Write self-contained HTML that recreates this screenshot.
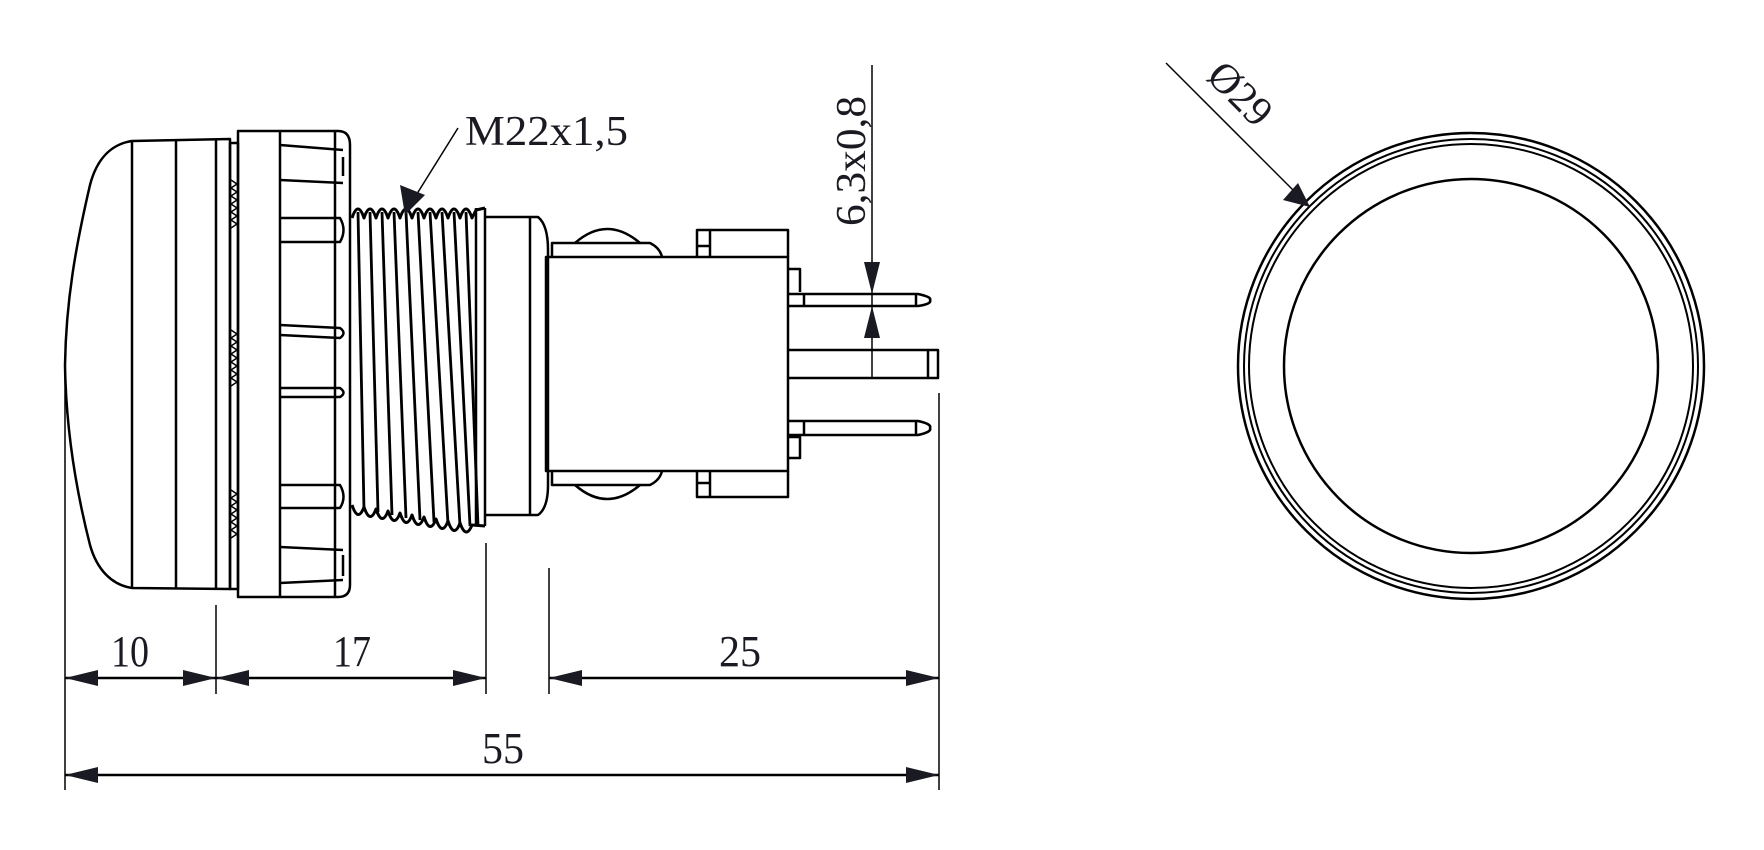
<!DOCTYPE html>
<html><head><meta charset="utf-8"><style>
html,body{margin:0;padding:0;background:#fff;}
svg{display:block;}
text{font-family:"Liberation Serif",serif;fill:#1a1a22;}
</style></head><body>
<svg width="1764" height="850" viewBox="0 0 1764 850" xmlns="http://www.w3.org/2000/svg">
<g fill="none" stroke="#000" stroke-width="2.5" stroke-linejoin="round">
<!-- lens -->
<path d="M132,141 C112,144 97,158 90,185 C76,245 66,300 65,365 C66,430 76,490 90,545 C97,570 112,585 132,588 L230,589 L230,139 Z"/>
<line x1="132" y1="142" x2="132" y2="588"/>
<line x1="176" y1="140" x2="176" y2="589"/>
<line x1="216" y1="139" x2="216" y2="589"/>
<rect x="230" y="143" width="8" height="446"/>
<path d="M231,180 l6,4 -6,4 6,4 -6,4 6,4 -6,4 6,4 -6,4 6,4 -6,4 6,4 -6,4" stroke-width="1.5"/>
<path d="M231,330 l6,4 -6,4 6,4 -6,4 6,4 -6,4 6,4 -6,4 6,4 -6,4 6,4 -6,4 6,4 -6,4" stroke-width="1.5"/>
<path d="M231,490 l6,4 -6,4 6,4 -6,4 6,4 -6,4 6,4 -6,4 6,4 -6,4 6,4 -6,4" stroke-width="1.5"/>
<!-- flange -->
<path d="M238,131 L338,131 Q350,131 350,145 L350,585 Q350,597 338,597 L238,597 Z"/>
<line x1="280" y1="131" x2="280" y2="597"/>
<line x1="335" y1="131" x2="335" y2="597"/>
<path d="M280,145 L343,150 M280,180 L343,183 M343,157 L343,176"/>
<path d="M280,218 L340,218 Q347,230 340,242 L280,242"/>
<path d="M280,325 L340,328 Q347,333 340,338 L280,335"/>
<path d="M280,388 L340,388 Q347,393 340,397 L280,397"/>
<path d="M280,485 L340,485 Q347,497 340,508 L280,508"/>
<path d="M280,547 L343,550 M280,583 L343,580 M343,555 L343,576"/>
<!-- thread -->
<path d="M352,218 q6,-18 12,0 q6,-18 12,0 q6,-18 12,0 q6,-18 12,0 q6,-18 12,0 q6,-18 12,0 q6,-18 12,0 q6,-18 12,0 q6,-18 12,0 q6,-18 12,0 L476,210 L485,208" stroke-width="3"/>
<path d="M352,505 Q358,523 364,507 Q370,525 376,509 Q382,527 388,511 Q394,529 400,513 Q406,531 412,515 Q418,533 424,517 Q430,535 436,519 Q442,537 448,521 Q454,539 460,523 Q466,540 472,525 L485,526" stroke-width="3"/>
<g stroke-width="2.8">
<line x1="358" y1="212" x2="364" y2="510"/><line x1="370" y1="212" x2="378" y2="512"/>
<line x1="382" y1="212" x2="392" y2="515"/><line x1="394" y1="212" x2="406" y2="518"/>
<line x1="406" y1="212" x2="420" y2="520"/><line x1="418" y1="212" x2="434" y2="522"/>
<line x1="430" y1="212" x2="448" y2="524"/><line x1="442" y1="212" x2="460" y2="526"/>
<line x1="454" y1="212" x2="470" y2="526"/><line x1="466" y1="212" x2="478" y2="526"/>
</g>
<line x1="476" y1="208" x2="476" y2="526"/>
<line x1="485" y1="208" x2="485" y2="526"/>
<!-- collar -->
<path d="M485,217 L538,217 Q548,225 548,250 L548,485 Q548,508 538,515 L485,515"/>
<line x1="530" y1="217" x2="530" y2="515"/>
<!-- body -->
<rect x="546" y="257" width="242" height="214"/>
<path d="M552,257 L552,243 L650,243 Q660,248 662,257"/>
<path d="M575,243 Q607,215 640,243"/>
<path d="M552,471 L552,485 L650,485 Q660,480 662,471"/>
<path d="M575,485 Q607,513 640,485"/>
<path d="M697,257 L697,230 L788,230 L788,257 M710,231 L710,257 M697,246 L710,246"/>
<path d="M697,471 L697,497 L788,497 L788,471 M710,471 L710,496 M697,483 L710,483"/>
<path d="M788,269 L800,269 L800,292 M788,437 L800,437 L800,458 L788,458"/>
<!-- pins -->
<path d="M788,294 L918,294 Q932,297 930,300 Q932,304 918,306 L788,306 M804,294 L804,306 M916,294 L916,306"/>
<path d="M788,421 L918,421 Q932,424 930,428 Q932,432 918,435 L788,435 M804,421 L804,435 M916,421 L916,435"/>
<path d="M788,350 L938,350 L938,378 L788,378 M928,350 L928,378"/>
<!-- circle view -->
<circle cx="1471" cy="366" r="233"/>
<circle cx="1471" cy="366" r="227" stroke-width="2"/>
<circle cx="1471" cy="366" r="222" stroke-width="2"/>
<circle cx="1471" cy="366" r="187"/>
</g>
<!-- dimension lines -->
<g stroke="#000" stroke-width="1.5" fill="none">
<line x1="65" y1="372" x2="65" y2="790"/>
<line x1="216" y1="605" x2="216" y2="694"/>
<line x1="486" y1="543" x2="486" y2="694"/>
<line x1="549" y1="568" x2="549" y2="694"/>
<line x1="939" y1="393" x2="939" y2="790"/>
<line x1="872" y1="65" x2="872" y2="378"/>
<line x1="1166" y1="63" x2="1310" y2="207"/>
<line x1="458" y1="128" x2="410" y2="205"/>
</g>
<g stroke="#000" stroke-width="2.5">
<line x1="65" y1="678" x2="216" y2="678"/>
<line x1="216" y1="678" x2="486" y2="678"/>
<line x1="549" y1="678" x2="939" y2="678"/>
<line x1="65" y1="775" x2="939" y2="775"/>
</g>
<g fill="#1a1a22">
<polygon points="65,678 98,670 98,686"/><polygon points="216,678 183,670 183,686"/>
<polygon points="216,678 249,670 249,686"/><polygon points="486,678 453,670 453,686"/>
<polygon points="549,678 582,670 582,686"/><polygon points="939,678 906,670 906,686"/>
<polygon points="65,775 98,767 98,783"/><polygon points="939,775 906,767 906,783"/>
<polygon points="872,294 864,262 880,262"/><polygon points="872,306 864,338 880,338"/>
<polygon points="1310,207 1283,200 1298,183"/>
<polygon points="405,215 400,185 425,195"/>
</g>
<text x="130" y="666" font-size="44" text-anchor="middle" textLength="38" lengthAdjust="spacingAndGlyphs">10</text>
<text x="352" y="666" font-size="44" text-anchor="middle" textLength="38" lengthAdjust="spacingAndGlyphs">17</text>
<text x="740" y="666" font-size="44" text-anchor="middle" textLength="42" lengthAdjust="spacingAndGlyphs">25</text>
<text x="503" y="763" font-size="44" text-anchor="middle" textLength="42" lengthAdjust="spacingAndGlyphs">55</text>
<text x="465" y="145" font-size="42" textLength="163" lengthAdjust="spacingAndGlyphs">M22x1,5</text>
<text transform="translate(865,226) rotate(-90)" font-size="42" textLength="130" lengthAdjust="spacingAndGlyphs">6,3x0,8</text>
<text transform="translate(1205,78) rotate(45)" font-size="42" textLength="72" lengthAdjust="spacingAndGlyphs">Ø29</text>
</svg>
</body></html>
